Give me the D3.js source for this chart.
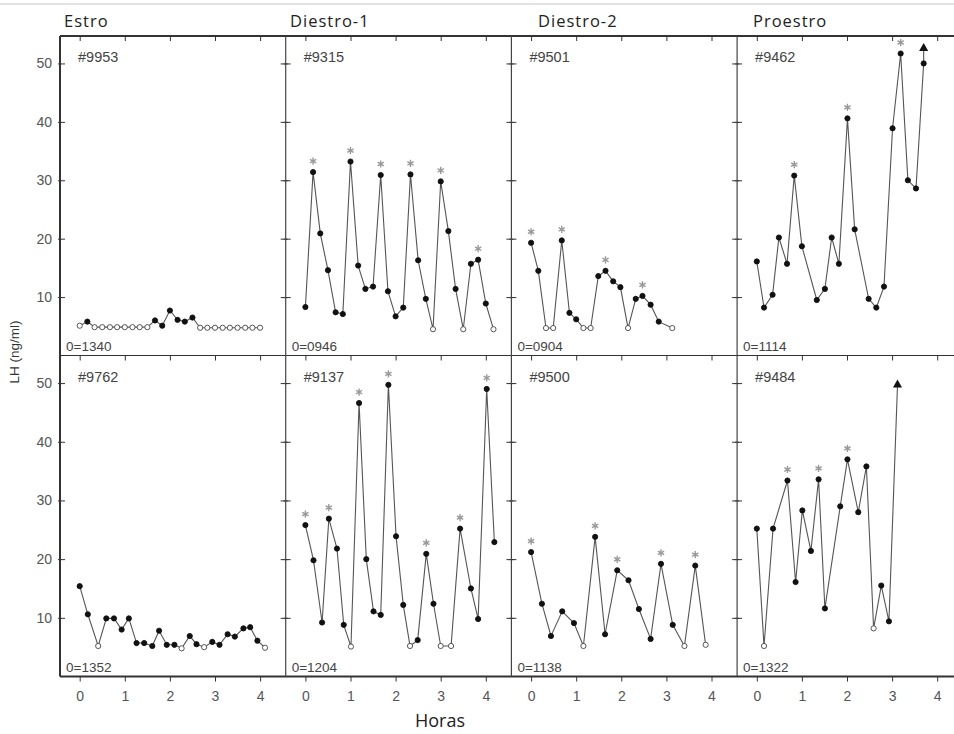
<!DOCTYPE html>
<html><head><meta charset="utf-8">
<script src="https://cdn.jsdelivr.net/npm/d3@7"></script>
<style>body{margin:0;background:#fff}svg{display:block}</style>
</head><body><svg id="chart" width="954" height="734"></svg>
<script>
// ---------- data ----------
const stages = ["Estro", "Diestro-1", "Diestro-2", "Proestro"];
const animalIds = ["#9953", "#9315", "#9501", "#9462", "#9762", "#9137", "#9500", "#9484"];
const onsetCodes = ["0=1340", "0=0946", "0=0904", "0=1114", "0=1352", "0=1204", "0=1138", "0=1322"];
const yTicks = [10, 20, 30, 40, 50];
const xTicks = [0, 1, 2, 3, 4];
const yLabel = "LH (ng/ml)";
const xLabel = "Horas";

// Estro #9953
const hours9953 = [0,0.17,0.33,0.5,0.67,0.83,1,1.17,1.33,1.5,1.67,1.83,2,2.17,2.33,2.5,2.67,2.83,3,3.17,3.33,3.5,3.67,3.83,4];
const lh9953 = [5.1,5.8,4.85,4.85,4.85,4.85,4.85,4.85,4.85,4.85,6.0,5.1,7.7,6.1,5.8,6.5,4.75,4.75,4.75,4.75,4.75,4.75,4.75,4.75,4.75];
const open9953 = [0,2,3,4,5,6,7,8,9,16,17,18,19,20,21,22,23,24];
const peaks9953 = [];

// Diestro-1 #9315
const hours9315 = [0,0.17,0.33,0.5,0.67,0.83,1,1.17,1.33,1.5,1.67,1.83,2,2.17,2.33,2.5,2.67,2.83,3,3.17,3.33,3.5,3.67,3.83,4,4.17];
const lh9315 = [8.3,31.4,20.9,14.6,7.4,7.1,33.2,15.4,11.4,11.8,30.9,11.0,6.7,8.2,31.0,16.3,9.7,4.5,29.8,21.3,11.4,4.5,15.7,16.4,8.9,4.5];
const open9315 = [17,21,25];
const peaks9315 = [1,6,10,14,18,23];

// Diestro-2 #9501
const hours9501 = [0,0.16,0.33,0.49,0.68,0.85,1.0,1.16,1.32,1.49,1.65,1.82,1.98,2.15,2.32,2.47,2.65,2.83,3.13];
const lh9501 = [19.3,14.5,4.7,4.7,19.7,7.3,6.2,4.7,4.7,13.6,14.5,12.7,11.7,4.7,9.7,10.2,8.7,5.8,4.7];
const open9501 = [2,3,7,8,13,18];
const peaks9501 = [0,4,10,15];

// Proestro #9462
const hours9462 = [0,0.16,0.35,0.49,0.67,0.83,1.0,1.33,1.51,1.66,1.82,2.01,2.17,2.48,2.65,2.82,3.01,3.19,3.35,3.53,3.70];
const lh9462 = [16.1,8.2,10.4,20.2,15.7,30.8,18.7,9.5,11.4,20.2,15.7,40.6,21.6,9.7,8.2,11.8,38.9,51.7,30.0,28.6,50.0];
const open9462 = [];
const peaks9462 = [5,11,17];

// Estro #9762
const hours9762 = [0,0.18,0.41,0.59,0.76,0.93,1.09,1.26,1.43,1.61,1.76,1.93,2.10,2.26,2.44,2.59,2.76,2.94,3.10,3.28,3.44,3.63,3.78,3.94,4.11];
const lh9762 = [15.4,10.6,5.2,9.9,9.9,8.0,9.9,5.7,5.7,5.2,7.8,5.4,5.4,4.8,6.9,5.5,5.0,5.9,5.4,7.2,6.8,8.2,8.4,6.1,4.9];
const open9762 = [2,13,16,24];
const peaks9762 = [];

// Diestro-1 #9137
const hours9137 = [0,0.18,0.37,0.52,0.70,0.85,1.01,1.19,1.35,1.51,1.67,1.84,2.01,2.17,2.32,2.49,2.68,2.84,3.00,3.23,3.43,3.67,3.83,4.02,4.19];
const lh9137 = [25.8,19.8,9.2,26.9,21.8,8.8,5.1,46.6,20.0,11.1,10.5,49.7,23.9,12.2,5.2,6.2,20.9,12.4,5.2,5.2,25.2,15.0,9.8,49.0,22.9];
const open9137 = [6,14,18,19];
const peaks9137 = [0,3,7,11,16,20,23];

// Diestro-2 #9500
const hours9500 = [0,0.24,0.44,0.69,0.95,1.16,1.42,1.64,1.91,2.16,2.39,2.65,2.88,3.14,3.40,3.64,3.87];
const lh9500 = [21.2,12.4,6.9,11.1,9.1,5.2,23.8,7.2,18.1,16.4,11.5,6.4,19.2,8.8,5.2,18.9,5.4];
const open9500 = [5,14,16];
const peaks9500 = [0,6,8,12,15];

// Proestro #9484
const hours9484 = [0,0.16,0.36,0.68,0.86,1.01,1.20,1.37,1.51,1.85,2.01,2.25,2.43,2.59,2.76,2.93];
const lh9484 = [25.2,5.2,25.2,33.4,16.1,28.3,21.4,33.6,11.6,29.0,37.0,28.0,35.8,8.2,15.5,9.4];
const open9484 = [1,13];
const peaks9484 = [3,7,10];

// off-scale arrows (triangles)
const arrowHours = [null, null, null, 3.70, null, null, null, 3.12];
const arrowLH = [null, null, null, 52.6, null, null, null, 49.7];

const hoursList = [hours9953, hours9315, hours9501, hours9462, hours9762, hours9137, hours9500, hours9484];
const lhList = [lh9953, lh9315, lh9501, lh9462, lh9762, lh9137, lh9500, lh9484];
const openList = [open9953, open9315, open9501, open9462, open9762, open9137, open9500, open9484];
const peaksList = [peaks9953, peaks9315, peaks9501, peaks9462, peaks9762, peaks9137, peaks9500, peaks9484];

// ---------- layout ----------
const W = 954, H = 734;
const gridLeft = 60, colW = 225.7;
const rowEdges = [36, 355.5, 676.5];
const yMax = 54.7;
const tickOffset = 19.7, hourPx = 45.1;
const ink = "#333";
const sans = "Liberation Sans, Arial, sans-serif";

const svg = d3.select("#chart");
svg.append("rect").attr("width", W).attr("height", H).attr("fill", "#fff");
svg.append("line").attr("x1", 0).attr("x2", W).attr("y1", 4).attr("y2", 4)
  .attr("stroke", "#d9d9d9").attr("stroke-width", 1.5);

const colLeft = c => gridLeft + c * colW;

animalIds.forEach((id, k) => {
  const c = k % 4, r = Math.floor(k / 4);
  const left = colLeft(c), right = left + colW;
  const top = rowEdges[r], bottom = rowEdges[r + 1];
  const x = d3.scaleLinear().domain([0, 4]).range([left + tickOffset, left + tickOffset + 4 * hourPx]);
  const y = d3.scaleLinear().domain([0, yMax]).range([bottom, top]);
  const g = svg.append("g");

  const yAxL = d3.axisRight(y).tickValues(yTicks).tickSize(5).tickFormat("");
  g.append("g").attr("transform", `translate(${left - 2},0)`).call(yAxL)
    .call(s => s.select(".domain").remove()).selectAll("line").attr("stroke", ink).attr("x2", 7);
  const yAxR = d3.axisLeft(y).tickValues(yTicks).tickSize(5).tickFormat("");
  g.append("g").attr("transform", `translate(${right + 2},0)`).call(yAxR)
    .call(s => s.select(".domain").remove()).selectAll("line").attr("stroke", ink).attr("x2", -7);

  const xAxT = d3.axisBottom(x).tickValues(xTicks).tickSize(5).tickFormat("");
  g.append("g").attr("transform", `translate(0,${top})`).call(xAxT)
    .call(s => s.select(".domain").remove()).selectAll("line").attr("stroke", ink);

  if (r === 1) {
    const xAxB = d3.axisBottom(x).tickValues(xTicks).tickSize(5).tickPadding(10).tickFormat(d3.format("d"));
    const ax = g.append("g").attr("transform", `translate(0,${bottom})`).call(xAxB);
    ax.select(".domain").remove();
    ax.selectAll("line").attr("stroke", ink);
    ax.selectAll("text").attr("font-family", sans).attr("font-size", 14).attr("fill", "#555");
  }
  if (c === 0) {
    const yAx = d3.axisLeft(y).tickValues(yTicks).tickSize(0).tickPadding(8).tickFormat(d3.format("d"));
    const ax = g.append("g").attr("transform", `translate(${left},0)`).call(yAx);
    ax.select(".domain").remove();
    ax.selectAll("text").attr("font-family", sans).attr("font-size", 14).attr("fill", "#555");
  }

  const hrs = hoursList[k], vals = lhList[k];
  const pts = hrs.map((h, i) => [h, vals[i]]);
  const linePts = pts.slice();
  if (arrowHours[k] != null) linePts.push([arrowHours[k], arrowLH[k]]);
  g.append("path").datum(linePts)
    .attr("d", d3.line().x(d => x(d[0])).y(d => y(d[1])))
    .attr("fill", "none").attr("stroke", "#555").attr("stroke-width", 1.1);

  g.selectAll(".peak").data(peaksList[k]).join("path")
    .attr("d", d3.symbol(d3.symbolAsterisk, 36)())
    .attr("transform", i => `translate(${x(hrs[i])},${y(vals[i]) - 11})`)
    .attr("fill", "none").attr("stroke", "#999").attr("stroke-width", 1.4);

  const openSet = new Set(openList[k]);
  g.selectAll(".pt").data(pts).join("circle")
    .attr("cx", d => x(d[0])).attr("cy", d => y(d[1])).attr("r", 2.6)
    .attr("fill", (d, i) => openSet.has(i) ? "#fff" : "#111")
    .attr("stroke", (d, i) => openSet.has(i) ? "#444" : "#111")
    .attr("stroke-width", 0.9);

  if (arrowHours[k] != null) {
    g.append("path").attr("d", d3.symbol(d3.symbolTriangle, 36)())
      .attr("transform", `translate(${x(arrowHours[k])},${y(arrowLH[k])})`)
      .attr("fill", "#111");
  }

  g.append("text").attr("x", left + 18).attr("y", top + 26).text(id)
    .attr("font-family", sans).attr("font-size", 14.5).attr("fill", "#444");
  g.append("text").attr("x", left + 6).attr("y", bottom - 5).text(onsetCodes[k])
    .attr("font-family", sans).attr("font-size", 13.5).attr("fill", "#444");
});

// frame
const gridRight = colLeft(4);
const hline = (yy, sw) => svg.append("line").attr("x1", gridLeft).attr("x2", gridRight)
  .attr("y1", yy).attr("y2", yy).attr("stroke", ink).attr("stroke-width", sw);
hline(rowEdges[0], 2); hline(rowEdges[2], 2); hline(rowEdges[1], 1.2);
svg.append("line").attr("x1", gridLeft).attr("x2", gridLeft).attr("y1", rowEdges[0]).attr("y2", rowEdges[2])
  .attr("stroke", ink).attr("stroke-width", 2);
[1, 2, 3].forEach(c => {
  svg.append("line").attr("x1", colLeft(c)).attr("x2", colLeft(c)).attr("y1", rowEdges[0]).attr("y2", rowEdges[2])
    .attr("stroke", "#444").attr("stroke-width", 1.2);
});

// stage titles
const titleX = [64, 290, 538, 753];
stages.forEach((s, c) => {
  svg.append("text").attr("x", titleX[c]).attr("y", 27).text(s)
    .attr("font-family", "Open Sans, sans-serif").attr("font-size", 16.5)
    .attr("letter-spacing", 1).attr("fill", "#222");
});

// axis titles
svg.append("text").attr("transform", "translate(19,352) rotate(-90)").attr("text-anchor", "middle")
  .text(yLabel).attr("font-family", sans).attr("font-size", 13.5).attr("fill", "#333");
svg.append("text").attr("x", 440).attr("y", 727).attr("text-anchor", "middle").text(xLabel)
  .attr("font-family", "Open Sans, sans-serif").attr("font-size", 18).attr("fill", "#222");
</script></body></html>
